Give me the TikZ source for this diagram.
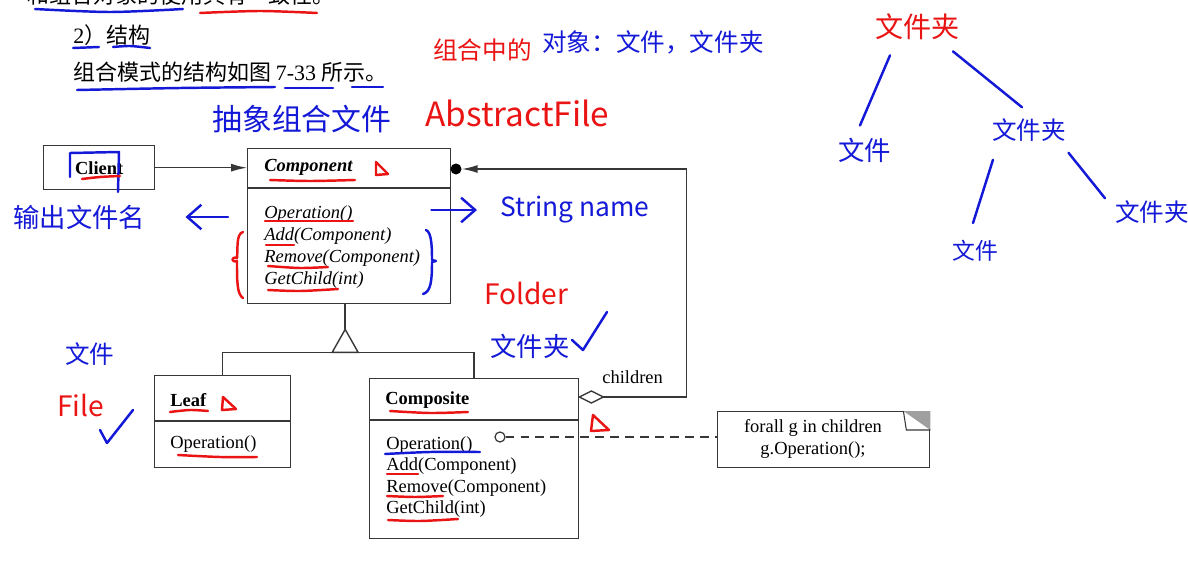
\documentclass[tikz,border=0pt]{standalone}
\usepackage{fontspec}
\setmainfont{Liberation Serif}
\newfontfamily\cjk{Noto Sans CJK SC}
\usetikzlibrary{arrows.meta}

\definecolor{inkred}{RGB}{235,20,20}
\definecolor{inkblue}{RGB}{20,25,215}
\definecolor{umlline}{RGB}{55,55,55}
\newcommand{\umlsize}{\fontsize{10.5}{12.5}\selectfont}

\tikzset{
  classbox/.style={draw=umlline, line width=0.8pt, anchor=north west, inner sep=0pt},
  divider/.style={draw=umlline, line width=0.8pt},
  title/.style={anchor=base west, inner sep=0pt, font=\umlsize\bfseries},
  oper/.style={anchor=base west, inner sep=0pt, font=\umlsize\itshape},
  operup/.style={anchor=base west, inner sep=0pt, font=\umlsize},
  pagetext/.style={anchor=base west, inner sep=0pt, font=\cjk\fontsize{12.5}{14}\selectfont},
  pen/.style={line width=1.4pt, line cap=round, line join=round},
  redpen/.style={pen, draw=inkred},
  bluepen/.style={pen, draw=inkblue},
  hand/.style={anchor=west, inner sep=0pt, font=\cjk\fontsize{#1}{#1}\selectfont},
  hand/.default=15,
  barb/.style={-{Straight Barb[length=8pt, width=14pt]}},
}

\begin{document}
\begin{tikzpicture}[x=0.02cm, y=-0.02cm]
    \useasboundingbox (0,0) rectangle (1188,561);
    \clip (0,0) rectangle (1188,561);
    \fill[white] (0,0) rectangle (1188,561);

    % Page text above the figure
    \node[pagetext] (txtend) at (27,4) {和组合对象的使用具有一致性。};
    \node[pagetext] (txthead) at (73,43) {{\rmfamily 2}）结构};
    \node[pagetext] (txtfig) at (73,80) {组合模式的结构如图 {\rmfamily 7-33} 所示。};

    % Client
    \node[classbox, minimum width=2.22cm, minimum height=0.88cm, font=\umlsize\bfseries] (client) at (43,145) {Client};

    % Component
    \node[classbox, minimum width=4.06cm, minimum height=3.1cm] (comp) at (247,148) {};
    \coordinate (compdiv) at (247,188);
    \draw[divider] (compdiv) -- (compdiv -| comp.east);
    \node[title, font=\umlsize\bfseries\itshape] (compname) at (264,171) {Component};
    \node[oper] (compop) at (264,218) {Operation()};
    \node[oper] (compadd) at (264,240) {Add(Component)};
    \node[oper] (comprem) at (264,262) {Remove(Component)};
    \node[oper] (compget) at (264,284) {GetChild(int)};

    % Leaf
    \node[classbox, minimum width=2.72cm, minimum height=1.84cm] (leaf) at (154,375) {};
    \coordinate (leafdiv) at (154,421);
    \draw[divider] (leafdiv) -- (leafdiv -| leaf.east);
    \node[title] (leafname) at (170,406) {Leaf};
    \node[operup] (leafop) at (170,448) {Operation()};

    % Composite
    \node[classbox, minimum width=4.18cm, minimum height=3.2cm] (compo) at (369,378) {};
    \coordinate (compodiv) at (369,420);
    \draw[divider] (compodiv) -- (compodiv -| compo.east);
    \node[title] (componame) at (385,404) {Composite};
    \node[operup] (compoop) at (386,449) {Operation()};
    \node[operup] (compoadd) at (386,470) {Add(Component)};
    \node[operup] (comporem) at (386,492) {Remove(Component)};
    \node[operup] (compoget) at (386,513) {GetChild(int)};

    % Note with folded corner
    \node[classbox, minimum width=4.24cm, minimum height=1.12cm] (note) at (717,411) {};
    \node[font=\umlsize, anchor=base] (note1) at (813,432) {forall g in children};
    \node[font=\umlsize, anchor=base] (note2) at (813,454) {g.Operation();};
    \fill[gray!75] (note.north east) -- ++(-27,0) -- ++(27,19) -- cycle;
    \draw[umlline, line width=0.6pt] ([xshift=-0.54cm]note.north east) -- ++(3,19) -- ++(24,0);

    % Client uses Component
    \draw[umlline, line width=0.8pt, -{Latex[length=9pt, width=4.5pt]}] (client.east) -- (client.east -| comp.west);

    % Generalization
    \draw[umlline, line width=0.8pt] ([xshift=-0.08cm]comp.south) -- ++(0,25) coordinate (genapex);
    \draw[umlline, line width=0.8pt] (genapex) -- ++(-13,23) coordinate (genbase) -- ++(26,0) -- cycle;
    \draw[umlline, line width=0.8pt] (leaf.north) |- (genbase) -| (compo.north);

    % Aggregation of children
    \coordinate (aggend) at ([yshift=-0.38cm]compo.north east);
    \draw[umlline, line width=0.8pt, fill=white] (aggend) -- ++(12,-6) -- ++(12,6) coordinate (aggtip) -- ++(-12,6) -- cycle;
    \node[circle, fill=black, inner sep=0pt, minimum size=0.22cm] (many) at (456,169) {};
    \draw[umlline, line width=0.8pt, -{Latex[length=9pt, width=4.5pt]}] (aggtip) -- ++(83,0) |- (many.east);
    \node[anchor=base west, inner sep=0pt, font=\umlsize] (childlbl) at (602,383) {children};

    % Link to the note
    \node[circle, draw=umlline, line width=0.7pt, inner sep=0pt, minimum size=0.2cm] (opmark) at (500,437) {};
    \draw[umlline, line width=0.8pt, dash pattern=on 5pt off 3.5pt] (opmark) -- (opmark -| note.west);

    % Pen notes
    \node[hand=14, text=inkred] (hgroup) at (433,50) {组合中的};
    \node[hand=14, text=inkblue] (hobjects) at (542,42) {对象：文件，文件夹};
    \node[hand=19, text=inkred] (habstract) at (425,113) {AbstractFile};
    \node[hand=17, text=inkblue] (habscomp) at (212,119) {抽象组合文件};
    \node[hand=15, text=inkblue] (houtname) at (13,217) {输出文件名};
    \node[hand=15, text=inkblue] (hstring) at (500,210) {String name};
    \node[hand=16, text=inkred] (hfolder) at (484,293) {Folder};
    \node[hand=15, text=inkblue] (hfolderzh) at (490,346) {文件夹};
    \node[hand=14, text=inkblue] (hfilezh) at (65,354) {文件};
    \node[hand=16, text=inkred] (hfile) at (57,405) {File};

    \draw[bluepen, barb, shorten <=0.38cm, shorten >=0.8cm] (comp.west |- houtname) -- (houtname.east);
    \draw[bluepen, barb, shorten <=-0.4cm, shorten >=0.46cm] (comp.east |- hstring) -- (hstring.west);

    % Tree of folders and files
    \node[hand=16, text=inkred] (troot) at (875,27) {文件夹};
    \node[hand=15, text=inkblue] (tfile) at (838,150) {文件};
    \node[hand=14, text=inkblue] (tdir) at (992,130) {文件夹};
    \node[hand=13, text=inkblue] (tfile2) at (952,251) {文件};
    \node[hand=14, text=inkblue] (tdir2) at (1115,212) {文件夹};
    \draw[bluepen] ([xshift=0.3cm, yshift=-0.3cm]troot.south west) -- ([xshift=0.44cm, yshift=0.24cm]tfile.north west);
    \draw[bluepen] ([xshift=1.56cm, yshift=-0.22cm]troot.south west) -- ([xshift=0.6cm, yshift=0.22cm]tdir.north west);
    \draw[bluepen] ([xshift=0.02cm, yshift=-0.36cm]tdir.south west) -- ([xshift=0.42cm, yshift=0.34cm]tfile2.north west);
    \draw[bluepen] ([xshift=0.04cm, yshift=-0.22cm]tdir.south east) -- ([xshift=-0.2cm, yshift=0.04cm]tdir2.north west);

    % Underlines on the page text
    \draw[bluepen] plot[smooth] coordinates {(35,9) (110,12) (183,9)};
    \draw[redpen] plot[smooth] coordinates {(200,13) (260,11) (317,13)};
    \draw[bluepen] (73,48) -- (99,47);
    \draw[bluepen] plot[smooth] coordinates {(113,47) (130,46) (150,48)};
    \draw[bluepen] plot[smooth] coordinates {(77,90) (180,88) (275,87)};
    \draw[bluepen] (285,88) -- (333,88);
    \draw[bluepen] (352,87) -- (383,87);

    % Marks on Client
    \draw[bluepen] (70,177) -- (70,153) -- (119,152) -- (118,192);
    \draw[redpen] plot[smooth] coordinates {(82,179) (100,177) (120,176)};

    % Marks on Component
    \draw[redpen] plot[smooth] coordinates {(270,180) (310,181) (355,180)};
    \draw[redpen] (376,162) -- (376,175) -- (388,174) -- cycle;
    \draw[redpen] (265,221) -- (353,221);
    \draw[redpen] (266,245) -- (294,245);
    \draw[redpen] plot[smooth] coordinates {(268,266) (300,268) (328,267)};
    \draw[redpen] plot[smooth] coordinates {(268,290) (300,291) (338,289)};
    \draw[redpen] (243,232) .. controls (236,234) and (238,248) .. (237,258) .. controls (231,256) and (231,263) .. (237,261) .. controls (237,282) and (237,294) .. (243,298);
    \draw[bluepen] (426,230) .. controls (432,232) and (432,250) .. (432,260) -- (436,261) -- (432,262) .. controls (432,280) and (431,292) .. (423,294);

    % Marks on Leaf
    \draw[redpen] plot[smooth] coordinates {(170,412) (190,410) (208,411)};
    \draw[redpen] (223,397) -- (222,410) -- (236,409) -- cycle;
    \draw[redpen] plot[smooth] coordinates {(178,455) (220,457) (257,457)};

    % Marks on Composite
    \draw[redpen] plot[smooth] coordinates {(390,411) (430,413) (468,412)};
    \draw[bluepen] plot[smooth] coordinates {(385,454) (430,452) (480,452)};
    \draw[redpen] (387,474) -- (418,474);
    \draw[redpen] plot[smooth] coordinates {(387,496) (415,497) (443,496)};
    \draw[redpen] plot[smooth] coordinates {(388,520) (420,521) (458,519)};
    \draw[redpen] (593,415) -- (591,431) -- (609,430) -- cycle;

    % Ticks
    \draw[bluepen] (572,340) -- (583,350) -- (607,312);
    \draw[bluepen] (100,430) -- (107,443) -- (133,410);
\end{tikzpicture}
\end{document}
